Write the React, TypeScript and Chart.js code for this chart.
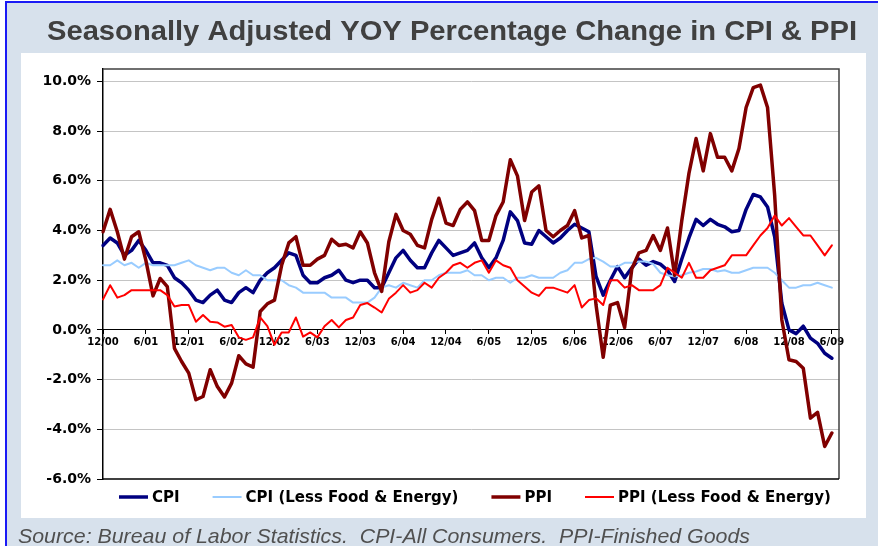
import React, { useEffect, useRef } from 'react';
import { Chart, registerables } from 'chart.js';

Chart.register(...registerables);

// ---- Data ----
const startYear = 2000;
const startMonth = 12;
const monthCount = 104; // 12/00 .. 7/09 axis slots
const categories: string[] = [];
for (let k = 0; k < monthCount; k++) {
  const m = ((startMonth - 1 + k) % 12) + 1;
  const y = startYear + Math.floor((startMonth - 1 + k) / 12);
  categories.push(`${m}/${String(y % 100).padStart(2, '0')}`);
}

const tickLabels = [
  '12/00', '6/01', '12/01', '6/02', '12/02', '6/03', '12/03', '6/04', '12/04',
  '6/05', '12/05', '6/06', '12/06', '6/07', '12/07', '6/08', '12/08', '6/09',
];
const yTickValues = [-6, -4, -2, 0, 2, 4, 6, 8, 10];

const titleText = 'Seasonally Adjusted YOY Percentage Change in CPI & PPI';
const sourceText = 'Source: Bureau of Labor Statistics.  CPI-All Consumers.  PPI-Finished Goods';
const seriesNames = ['CPI', 'CPI (Less Food & Energy)', 'PPI', 'PPI (Less Food & Energy)'];

const cpi = [
  3.4, 3.7, 3.5, 3.0, 3.2, 3.6, 3.2, 2.7, 2.7, 2.6,
  2.1, 1.9, 1.6, 1.2, 1.1, 1.4, 1.6, 1.2, 1.1, 1.5,
  1.7, 1.5, 2.0, 2.3, 2.5, 2.8, 3.1, 3.0, 2.2, 1.9,
  1.9, 2.1, 2.2, 2.4, 2.0, 1.9, 2.0, 2.0, 1.7, 1.7,
  2.3, 2.9, 3.2, 2.8, 2.5, 2.5, 3.1, 3.6, 3.3, 3.0,
  3.1, 3.2, 3.5, 2.9, 2.5, 2.9, 3.6, 4.75, 4.4, 3.5,
  3.45, 4.0, 3.75, 3.5, 3.7, 4.0, 4.25, 4.1, 3.95, 2.15,
  1.4, 2.0, 2.55, 2.1, 2.5, 2.85, 2.6, 2.75, 2.65, 2.4,
  1.95, 2.85, 3.7, 4.45, 4.2, 4.45, 4.25, 4.15, 3.95, 4.0,
  4.85, 5.45, 5.35, 4.95, 3.75, 1.07, 0.0, -0.15, 0.15, -0.33,
  -0.54, -0.94, -1.14,
];

const cpiCore = [
  2.6, 2.6, 2.8, 2.6, 2.7, 2.5, 2.7, 2.6, 2.6, 2.6,
  2.6, 2.7, 2.8, 2.6, 2.5, 2.4, 2.5, 2.5, 2.3, 2.2,
  2.4, 2.2, 2.2, 2.0, 2.0, 2.0, 1.8, 1.7, 1.5, 1.5,
  1.5, 1.5, 1.3, 1.3, 1.3, 1.1, 1.1, 1.1, 1.3, 1.7,
  1.8, 1.7, 1.9, 1.8, 1.7, 2.0, 2.0, 2.2, 2.3, 2.3,
  2.3, 2.4, 2.2, 2.2, 2.0, 2.1, 2.1, 1.9, 2.1, 2.1,
  2.2, 2.1, 2.1, 2.1, 2.3, 2.4, 2.7, 2.7, 2.85, 2.9,
  2.75, 2.55, 2.55, 2.7, 2.7, 2.75, 2.75, 2.65, 2.3, 2.2,
  2.15, 2.2, 2.3, 2.35, 2.45, 2.45, 2.35, 2.4, 2.3, 2.3,
  2.4, 2.5, 2.5, 2.5, 2.3, 2.0, 1.7, 1.7, 1.8, 1.8,
  1.9, 1.8, 1.7,
];

const ppi = [
  3.95, 4.85, 3.95, 2.85, 3.75, 3.95, 2.8, 1.37, 2.07, 1.74,
  -0.74, -1.27, -1.74, -2.81, -2.68, -1.6, -2.28, -2.7, -2.14, -1.04,
  -1.37, -1.5, 0.74, 1.05, 1.2, 2.6, 3.5, 3.75, 2.6, 2.6,
  2.85, 3.0, 3.65, 3.4, 3.45, 3.3, 3.95, 3.5, 2.3, 1.55,
  3.55, 4.65, 4.0, 3.85, 3.4, 3.3, 4.45, 5.3, 4.3, 4.2,
  4.85, 5.15, 4.8, 3.6, 3.6, 4.6, 5.15, 6.85, 6.2, 4.4,
  5.55, 5.8, 4.0, 3.75, 4.0, 4.2, 4.8, 3.7, 3.8, 1.0,
  -1.1, 1.0, 1.1, 0.1, 2.45, 3.1, 3.2, 3.8, 3.2, 4.1,
  2.2, 4.4, 6.3, 7.7, 6.4, 7.9, 6.95, 6.95, 6.4, 7.3,
  8.95, 9.75, 9.85, 8.95, 5.4, 0.4, -1.2, -1.27, -1.54, -3.55,
  -3.32, -4.69, -4.15,
];

const ppiCore = [
  1.23, 1.8, 1.3, 1.4, 1.6, 1.6, 1.6, 1.6, 1.6, 1.4,
  0.94, 1.0, 1.0, 0.33, 0.6, 0.33, 0.3, 0.13, 0.2, -0.3,
  -0.4, -0.3, 0.5, 0.15, -0.6, -0.1, -0.1, 0.5, -0.27, -0.1,
  -0.3, 0.15, 0.4, 0.1, 0.4, 0.5, 1.0, 1.08, 0.9, 0.7,
  1.25, 1.5, 1.8, 1.5, 1.6, 1.9, 1.7, 2.1, 2.3, 2.6,
  2.7, 2.5, 2.7, 2.8, 2.3, 2.8, 2.6, 2.5, 2.0, 1.75,
  1.5, 1.37, 1.7, 1.7, 1.6, 1.5, 1.8, 0.9, 1.2, 1.27,
  1.0, 2.0, 2.0, 1.7, 1.8, 1.6, 1.6, 1.6, 1.8, 2.5,
  2.3, 2.1, 2.7, 2.1, 2.1, 2.4, 2.5, 2.6, 3.0, 3.0,
  3.0, 3.4, 3.8, 4.1, 4.6, 4.2, 4.5, 4.15, 3.8, 3.8,
  3.4, 3.0, 3.4,
];

const seriesColors = ['#000080', '#99CCFF', '#800000', '#FF0000'];
const seriesWidths = [3.5, 2, 3.5, 2];

const W = 878;
const H = 546;

const backgroundPlugin = {
  id: 'pageBackground',
  beforeDraw(chart: any) {
    const ctx = chart.ctx as CanvasRenderingContext2D;
    ctx.save();
    ctx.fillStyle = '#ffffff';
    ctx.fillRect(0, 0, W, H);
    ctx.fillStyle = '#D7E1EC';
    ctx.fillRect(7, 3, W - 7, H - 3);
    ctx.fillStyle = '#1A1AF5';
    ctx.fillRect(5, 1, W - 5, 2);
    ctx.fillRect(5, 1, 2, H - 1);
    ctx.fillStyle = '#ffffff';
    ctx.fillRect(21, 53, 845, 465);

    // title
    ctx.font = 'bold 27px "Liberation Sans"';
    ctx.fillStyle = '#404040';
    ctx.textAlign = 'left';
    ctx.textBaseline = 'alphabetic';
    const tw = ctx.measureText(titleText).width;
    ctx.save();
    ctx.translate(47, 39.5);
    ctx.scale(810 / tw, 1);
    ctx.fillText(titleText, 0, 0);
    ctx.restore();

    // source
    ctx.font = 'italic 21px "Liberation Sans"';
    ctx.fillStyle = '#505050';
    const sw = ctx.measureText(sourceText).width;
    ctx.save();
    ctx.translate(18, 542.5);
    ctx.scale(732 / sw, 1);
    ctx.fillText(sourceText, 0, 0);
    ctx.restore();
    ctx.restore();
  },
};

const framePlugin = {
  id: 'plotFrame',
  beforeDatasetsDraw(chart: any) {
    const ctx = chart.ctx as CanvasRenderingContext2D;
    const a = chart.chartArea;
    ctx.save();
    ctx.strokeStyle = '#404040';
    ctx.lineWidth = 1.5;
    ctx.beginPath();
    ctx.moveTo(a.left, a.top);
    ctx.lineTo(a.right, a.top);
    ctx.lineTo(a.right, a.bottom);
    ctx.stroke();
    ctx.strokeStyle = '#000';
    ctx.beginPath();
    ctx.moveTo(a.left, a.bottom);
    ctx.lineTo(a.right, a.bottom);
    ctx.stroke();
    ctx.restore();
  },
};

const legendPlugin = {
  id: 'bottomLegend',
  afterDraw(chart: any) {
    const ctx = chart.ctx as CanvasRenderingContext2D;
    ctx.save();
    ctx.font = 'bold 15px "DejaVu Sans"';
    ctx.textAlign = 'left';
    ctx.textBaseline = 'alphabetic';
    let x = 119;
    const yLine = 497;
    chart.data.datasets.forEach((ds: any) => {
      ctx.strokeStyle = ds.borderColor;
      ctx.lineWidth = ds.borderWidth;
      ctx.lineCap = 'butt';
      ctx.beginPath();
      ctx.moveTo(x, yLine);
      ctx.lineTo(x + 29, yLine);
      ctx.stroke();
      ctx.fillStyle = '#000';
      ctx.fillText(ds.label, x + 33, 501.5);
      x += 33 + ctx.measureText(ds.label).width + 33;
    });
    ctx.restore();
  },
};

export default function App() {
  const canvasRef = useRef<HTMLCanvasElement | null>(null);

  useEffect(() => {
    if (!canvasRef.current) return;
    const seriesData = [cpi, cpiCore, ppi, ppiCore];
    const chart = new Chart(canvasRef.current, {
      type: 'line',
      data: {
        labels: categories,
        datasets: seriesNames.map((name, k) => ({
          label: name,
          data: seriesData[k],
          borderColor: seriesColors[k],
          backgroundColor: seriesColors[k],
          borderWidth: seriesWidths[k],
          pointRadius: 0,
          tension: 0,
          borderJoinStyle: 'round' as const,
          borderCapStyle: 'round' as const,
          order: 4 - k,
        })),
      },
      options: {
        responsive: false,
        animation: false,
        devicePixelRatio: 1,
        layout: { padding: { left: 0, right: 39, top: 69, bottom: 67 } },
        plugins: {
          legend: { display: false },
          title: { display: false },
          tooltip: { enabled: false },
        },
        scales: {
          x: {
            type: 'category',
            position: { y: 0 } as any,
            afterBuildTicks: (scale: any) => {
              scale.ticks = scale.ticks.filter((t: any) => tickLabels.includes(categories[t.value]));
            },
            grid: { drawOnChartArea: false, drawTicks: true, tickLength: 4, tickColor: '#000' },
            border: { color: '#000', width: 1 },
            ticks: {
              autoSkip: false,
              maxRotation: 0,
              minRotation: 0,
              color: '#000',
              padding: 2,
              font: { family: 'DejaVu Sans', weight: 'bold', size: 10 },
            },
          },
          y: {
            min: -6,
            max: 10.5,
            afterBuildTicks: (scale: any) => {
              scale.ticks = yTickValues.map((v) => ({ value: v }));
            },
            afterFit: (scale: any) => {
              scale.width = 103;
            },
            grid: {
              color: (c: any) =>
                c.tick && (c.tick.value === 0 || c.tick.value === -6) ? 'rgba(0,0,0,0)' : '#c4c4c4',
              lineWidth: 1,
              drawTicks: true,
              tickLength: 6,
              tickColor: '#000',
            },
            border: { color: '#000', width: 1.5 },
            ticks: {
              color: '#000',
              padding: 6,
              font: { family: 'DejaVu Sans', weight: 'bold', size: 14 },
              callback: (v: any) => Number(v).toFixed(1) + '%',
            },
          },
        },
      },
      plugins: [backgroundPlugin, framePlugin, legendPlugin],
    });
    return () => chart.destroy();
  }, []);

  return (
    <div style={{ position: 'absolute', left: 0, top: 0, width: W, height: H }}>
      <canvas ref={canvasRef} width={W} height={H} style={{ display: 'block', width: W, height: H }} />
    </div>
  );
}
